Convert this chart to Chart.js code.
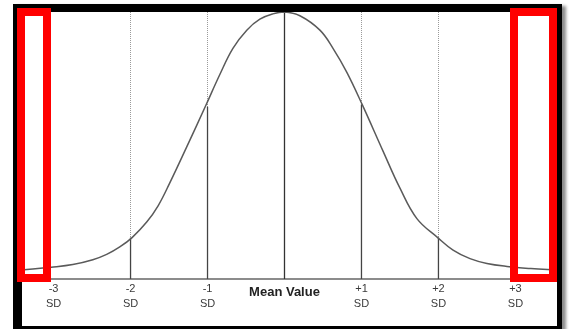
<!DOCTYPE html>
<html>
<head>
<meta charset="utf-8">
<script src="https://cdn.jsdelivr.net/npm/chart.js@4/dist/chart.umd.min.js"></script>
<style>
  html, body { margin: 0; padding: 0; background: #fff; }
  #wrap { position: relative; width: 569px; height: 329px; overflow: hidden; background: #fff; }
  #chart { position: absolute; left: 0; top: 0; }
  .frame {
    position: absolute; left: 13px; top: 4px; width: 549px; height: 330px;
    box-sizing: border-box; border-style: solid; border-color: #000;
    border-width: 8px 5px 8px 9px;
    box-shadow: 4px 2px 3px rgba(0,0,0,0.45);
  }
  .hl { position: absolute; box-sizing: border-box; border: 8px solid #ff0000; }
</style>
</head>
<body>
<div id="wrap">
  <canvas id="chart" width="569" height="329"></canvas>
  <div class="frame"></div>
  <div class="hl" style="left:17px; top:8px; width:34px; height:274px;"></div>
  <div class="hl" style="left:510px; top:8px; width:47px; height:274px;"></div>
</div>
<script>
// Bell curve, x in standard deviations from the mean, y as % of peak height
const curveX = [-3.41, -3.03, -2.75, -2.49, -2.31, -2.14, -1.98, -1.79, -1.64, -1.49, -1.27, -1.03, -0.84, -0.67, -0.49, -0.32, -0.15, 0, 0.20, 0.46, 0.63, 0.81, 1.01, 1.28, 1.50, 1.72, 1.99, 2.19, 2.41, 2.63, 2.89, 3.20, 3.54];
const curveY = [3.4, 4.4, 5.4, 7.2, 9.2, 12.0, 15.5, 21.3, 27.5, 36.0, 49.5, 64.5, 76.6, 86.4, 93.2, 97.3, 99.3, 100, 98.6, 93.2, 86.4, 77.4, 65.3, 47.9, 34.0, 22.6, 15.5, 10.8, 7.6, 5.8, 4.7, 3.9, 3.3];

// Standard-deviation markers and the curve height where each one meets it
const markerSD = [-2, -1, 0, 1, 2];
const markerHeight = [15.5, 64.5, 100, 65.3, 15.5];

// Axis ticks and their labels
const tickValues = [-3, -2, -1, 0, 1, 2, 3];
const tickLabels = [["-3", "SD"], ["-2", "SD"], ["-1", "SD"], "Mean Value", ["+1", "SD"], ["+2", "SD"], ["+3", "SD"]];

const datasets = [{
  type: 'line',
  data: curveX.map((x, i) => ({ x: x, y: curveY[i] })),
  borderColor: '#5a5a5a',
  borderWidth: 1.5,
  pointRadius: 0,
  tension: 0.4,
  fill: false
}];
markerSD.forEach((sd, i) => {
  datasets.push({
    type: 'line',
    data: [{ x: sd, y: 0 }, { x: sd, y: markerHeight[i] }],
    borderColor: sd === 0 ? '#333' : '#444',
    borderWidth: 1.3,
    pointRadius: 0,
    fill: false
  });
});

new Chart(document.getElementById('chart'), {
  type: 'line',
  data: { datasets: datasets },
  options: {
    responsive: false,
    animation: false,
    layout: { padding: { left: 22, right: 12, top: 12, bottom: 15 } },
    plugins: { legend: { display: false }, tooltip: { enabled: false } },
    scales: {
      x: {
        type: 'linear',
        min: -3.41,
        max: 3.54,
        afterBuildTicks: (scale) => { scale.ticks = tickValues.map(v => ({ value: v })); },
        grid: {
          drawTicks: false,
          lineWidth: 1,
          color: (ctx) => (ctx.tick && Math.abs(ctx.tick.value) <= 2) ? '#9a9a9a' : 'rgba(0,0,0,0)'
        },
        border: { display: true, color: '#8c8c8c', width: 2, dash: [1, 1] },
        ticks: {
          padding: 3,
          maxRotation: 0,
          autoSkip: false,
          color: (ctx) => ctx.tick && ctx.tick.value === 0 ? '#222' : '#3a3a3a',
          font: (ctx) => (ctx.tick && ctx.tick.value === 0)
            ? { family: '"Liberation Sans", Arial, sans-serif', size: 13, weight: 'bold', lineHeight: 1.54 }
            : { family: '"Liberation Sans", Arial, sans-serif', size: 11, lineHeight: 1.32 },
          callback: (value) => {
            const i = tickValues.indexOf(value);
            return i >= 0 ? tickLabels[i] : '';
          }
        }
      },
      y: { display: false, min: 0, max: 100 }
    }
  }
});
</script>
</body>
</html>
